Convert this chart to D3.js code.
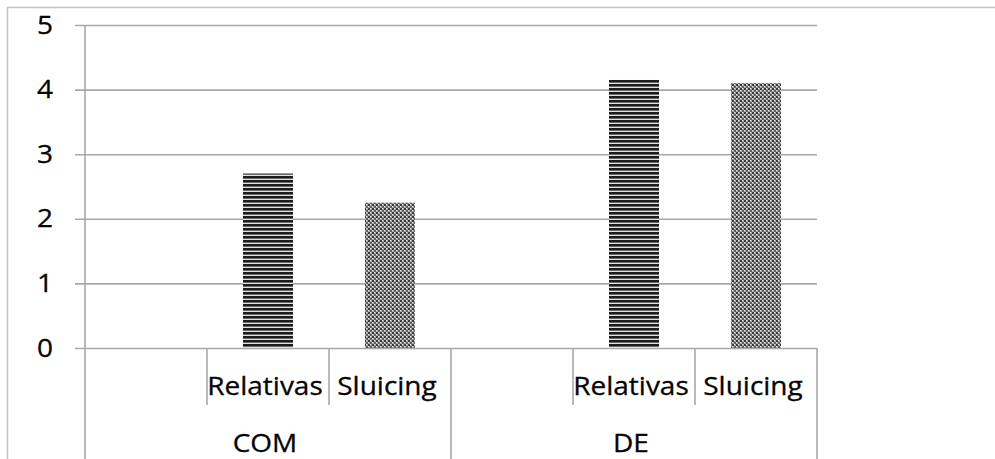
<!DOCTYPE html>
<html>
<head>
<meta charset="utf-8">
<script src="https://cdn.jsdelivr.net/npm/d3@7"></script>
<style>
  html, body { margin: 0; padding: 0; background: #fff; }
  svg { display: block; }
  text { font-family: "Open Sans", Lato, sans-serif; fill: #050505; stroke: #050505; stroke-width: 0.3; }
</style>
</head>
<body>
<svg id="chart" width="995" height="459"></svg>
<script>
// Two-level category axis: group -> sub-category (first slot in each group is empty)
const groups = ["COM", "DE"];
const subCategories = ["", "Relativas", "Sluicing"];
const relativasValues = [2.7, 4.15];
const sluicingValues = [2.25, 4.1];
const yTicks = [0, 1, 2, 3, 4, 5];

const rows = [];
groups.forEach((g, gi) => {
  subCategories.forEach(s => {
    const v = s === "Relativas" ? relativasValues[gi] : s === "Sluicing" ? sluicingValues[gi] : null;
    rows.push({ group: g, sub: s, key: g + "|" + s, value: v });
  });
});

const svg = d3.select("#chart");
const W = 995, H = 459;
const plot = { left: 85, right: 817, top: 25, bottom: 348 };
const fontSize = 25;
const stretch = 1.12; // labels are set slightly wide

// outer chart frame (runs past the visible edges)
svg.append("rect")
  .attr("x", 7.5).attr("y", 7.5)
  .attr("width", W + 20).attr("height", H + 20)
  .attr("fill", "none").attr("stroke", "#c4c4c4").attr("stroke-width", 1.5);

// fill patterns
const defs = svg.append("defs");
const pStripe = defs.append("pattern")
  .attr("id", "stripes").attr("patternUnits", "userSpaceOnUse")
  .attr("width", 8).attr("height", 4);
pStripe.append("rect").attr("width", 8).attr("height", 4).attr("fill", "#e2e2e2");
pStripe.append("rect").attr("y", 0).attr("width", 8).attr("height", 2).attr("fill", "#1c1c1c");
pStripe.append("rect").attr("y", 2).attr("width", 8).attr("height", 1).attr("fill", "#6a6a6a");

const pCheck = defs.append("pattern")
  .attr("id", "checks").attr("patternUnits", "userSpaceOnUse")
  .attr("width", 4).attr("height", 4);
pCheck.append("rect").attr("width", 4).attr("height", 4).attr("fill", "#a6a6a6");
pCheck.append("rect").attr("x", 0).attr("y", 0).attr("width", 2).attr("height", 2).attr("fill", "#3a3a3a");
pCheck.append("rect").attr("x", 2).attr("y", 2).attr("width", 2).attr("height", 2).attr("fill", "#606060");
pCheck.append("rect").attr("x", 2).attr("y", 0).attr("width", 1).attr("height", 1).attr("fill", "#f4f4f4");
pCheck.append("rect").attr("x", 0).attr("y", 2).attr("width", 1).attr("height", 1).attr("fill", "#e8e8e8");

const x = d3.scaleBand().domain(rows.map(r => r.key)).range([plot.left, plot.right]).paddingInner(0).paddingOuter(0);
const y = d3.scaleLinear().domain([0, 5]).range([plot.bottom, plot.top]);

const gridColor = "#a8a8a8";

// horizontal gridlines + y ticks
const yAxis = d3.axisLeft(y).tickValues(yTicks).tickFormat(d3.format("d"))
  .tickSize(-(plot.right - plot.left)).tickPadding(32);
const yg = svg.append("g").attr("transform", `translate(${plot.left},0)`).call(yAxis);
yg.select(".domain").remove();
yg.selectAll(".tick line").attr("x1", -10).attr("stroke", gridColor).attr("stroke-width", 1.6);
yg.selectAll(".tick text")
  .attr("x", 0)
  .attr("transform", `translate(-32,0) scale(${stretch},1)`)
  .attr("font-size", fontSize).attr("font-family", "'Open Sans', Lato, sans-serif").attr("fill", "#050505");

// vertical value axis line, running down through the category area
svg.append("line")
  .attr("x1", plot.left).attr("x2", plot.left)
  .attr("y1", y(5)).attr("y2", H + 5)
  .attr("stroke", gridColor).attr("stroke-width", 1.6);

// bars
svg.append("g").selectAll("rect")
  .data(rows.filter(r => r.value != null))
  .join("rect")
  .attr("x", d => x(d.key) + x.bandwidth() / 2 - 25)
  .attr("width", 50)
  .attr("y", d => y(d.value))
  .attr("height", d => y(0) - y(d.value))
  .attr("fill", d => d.sub === "Relativas" ? "url(#stripes)" : "url(#checks)");

// category dividers
const boundaries = rows.map(r => x(r.key)).concat([plot.right]);
boundaries.forEach((bx, i) => {
  if (i === 0) return;
  const isGroupEdge = i % subCategories.length === 0;
  svg.append("line")
    .attr("x1", bx).attr("x2", bx)
    .attr("y1", plot.bottom).attr("y2", isGroupEdge ? H + 5 : 405)
    .attr("stroke", gridColor).attr("stroke-width", 1.6);
});

// sub-category labels
svg.append("g").selectAll("text")
  .data(rows.filter(r => r.sub))
  .join("text")
  .attr("transform", d => `translate(${x(d.key) + x.bandwidth() / 2 - 3},395) scale(${stretch},1)`)
  .attr("text-anchor", "middle")
  .attr("font-size", fontSize)
  .text(d => d.sub);

// group labels
svg.append("g").selectAll("text")
  .data(groups)
  .join("text")
  .attr("transform", g => {
    const ks = rows.filter(r => r.group === g).map(r => r.key);
    const cx = (x(ks[0]) + x(ks[ks.length - 1]) + x.bandwidth()) / 2 - 3;
    return `translate(${cx},452) scale(${stretch},1)`;
  })
  .attr("text-anchor", "middle")
  .attr("font-size", fontSize)
  .text(g => g);
</script>
</body>
</html>
